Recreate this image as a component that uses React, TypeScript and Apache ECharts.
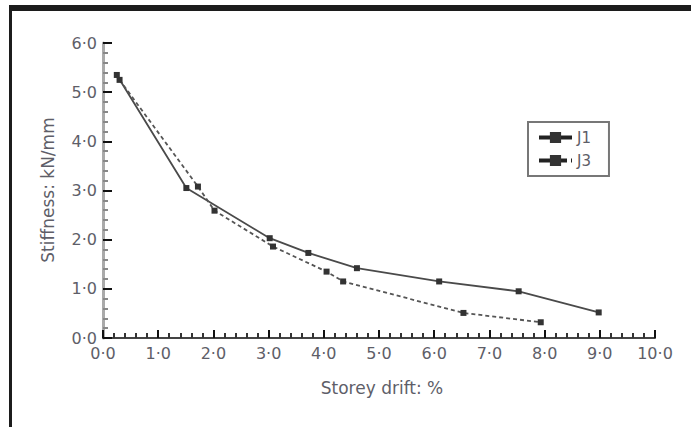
import React, { useEffect, useRef } from "react";
import * as echarts from "echarts";

const j1Drift = [0.25, 1.51, 3.02, 3.72, 4.6, 6.09, 7.53, 8.98];
const j1Stiff = [5.35, 3.05, 2.03, 1.73, 1.42, 1.15, 0.95, 0.52];
const j3Drift = [0.3, 1.72, 2.02, 3.08, 4.05, 4.35, 6.53, 7.93];
const j3Stiff = [5.25, 3.08, 2.59, 1.86, 1.35, 1.15, 0.51, 0.32];
const xTitle = "Storey drift: %";
const yTitle = "Stiffness: kN/mm";

const fmt = (v: number) => v.toFixed(1).replace(".", "·");
const FONT = "DejaVu Sans";
const TXT = "#5e5e68";

export default function App() {
  const ref = useRef<HTMLDivElement>(null);
  useEffect(() => {
    if (!ref.current) return;
    const chart = echarts.init(ref.current, null, { renderer: "svg" });
    const pair = (xs: number[], ys: number[]) => xs.map((x, i) => [x, ys[i]]);
    chart.setOption({
      animation: false,
      backgroundColor: "#fff",
      grid: { left: 103, right: 36, top: 43, bottom: 89 },
      graphic: [
        { type: "rect", shape: { x: 9, y: 5, width: 682, height: 6 }, style: { fill: "#1c1c1c" } },
        { type: "rect", shape: { x: 9, y: 5, width: 3, height: 422 }, style: { fill: "#1c1c1c" } },
        {
          type: "text",
          x: 48,
          y: 190,
          rotation: Math.PI / 2,
          style: {
            text: yTitle,
            font: `17px "${FONT}"`,
            fill: TXT,
            align: "center",
            verticalAlign: "middle",
          },
        },
        {
          type: "text",
          x: 382,
          y: 388,
          style: {
            text: xTitle,
            font: `17px "${FONT}"`,
            fill: TXT,
            align: "center",
            verticalAlign: "middle",
          },
        },
      ],
      legend: {
        orient: "vertical",
        left: 528,
        top: 122,
        padding: [8, 18, 8, 9],
        itemWidth: 33,
        itemHeight: 14,
        itemGap: 8,
        borderColor: "#777",
        borderWidth: 2,
        textStyle: { fontFamily: FONT, fontSize: 15, color: TXT },
        data: [
          { name: "J1", lineStyle: { width: 4, color: "#222" } },
          { name: "J3", lineStyle: { width: 4, color: "#222", type: [12, 4] } },
        ],
      },
      xAxis: {
        type: "value",
        min: 0,
        max: 10,
        interval: 1,
        axisLine: { show: true, lineStyle: { color: "#444", width: 2 } },
        axisTick: { show: true, inside: true, length: 8, lineStyle: { color: "#111", width: 2 } },
        minorTick: { show: true, splitNumber: 5, length: 5, lineStyle: { color: "#333", width: 2 } },
        splitLine: { show: false },
        axisLabel: { formatter: fmt, fontFamily: FONT, fontSize: 16, color: TXT, margin: 7 },
      },
      yAxis: {
        type: "value",
        min: 0,
        max: 6,
        interval: 1,
        axisLine: { show: true, lineStyle: { color: "#aaa", width: 3 } },
        axisTick: { show: true, inside: true, length: 9, lineStyle: { color: "#111", width: 2 } },
        minorTick: { show: true, splitNumber: 5, length: 5, lineStyle: { color: "#888", width: 2 } },
        splitLine: { show: false },
        axisLabel: { formatter: fmt, fontFamily: FONT, fontSize: 16, color: TXT, margin: 6 },
      },
      series: [
        {
          name: "J1",
          type: "line",
          data: pair(j1Drift, j1Stiff),
          symbol: "rect",
          symbolSize: 6,
          itemStyle: { color: "#333" },
          lineStyle: { color: "#4a4a4a", width: 1.8, type: "solid" },
        },
        {
          name: "J3",
          type: "line",
          data: pair(j3Drift, j3Stiff),
          symbol: "rect",
          symbolSize: 6,
          itemStyle: { color: "#333" },
          lineStyle: { color: "#555", width: 1.8, type: [4, 3] },
        },
      ],
    });
    return () => chart.dispose();
  }, []);
  return <div ref={ref} style={{ position: "fixed", left: 0, top: 0, width: 691, height: 427 }} />;
}
